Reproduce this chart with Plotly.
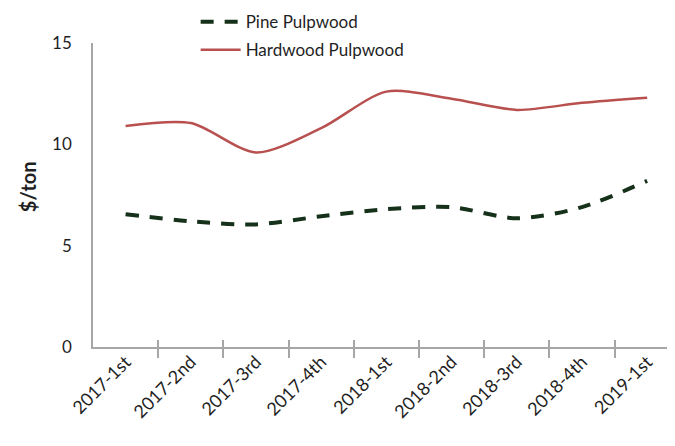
import plotly.graph_objects as go

categories = ["2017-1st", "2017-2nd", "2017-3rd", "2017-4th", "2018-1st",
              "2018-2nd", "2018-3rd", "2018-4th", "2019-1st"]
pine = [6.55, 6.2, 6.05, 6.45, 6.8, 6.9, 6.35, 6.9, 8.2]
hardwood = [10.9, 11.05, 9.6, 10.8, 12.6, 12.25, 11.7, 12.05, 12.3]
y_ticks = [0, 5, 10, 15]

FONT = "Lato"
TXT = "#1f1f1f"
XR = [-0.5, 8.55]
TICKPOS = [i - 0.5 for i in range(1, 10)]

fig = go.Figure()
fig.add_trace(go.Scatter(
    x=categories, y=pine, name="Pine Pulpwood", mode="lines", legendgroup="a",
    line=dict(color="#16311a", width=4, dash="13px,11px", shape="spline", smoothing=0.8),
))
fig.add_trace(go.Scatter(
    x=categories, y=hardwood, name="Hardwood Pulpwood", mode="lines", legendgroup="b",
    line=dict(color="#b8504f", width=2.5, shape="spline", smoothing=0.8),
))

fig.update_layout(
    width=675, height=446,
    margin=dict(l=85, r=0, t=35, b=107, autoexpand=False),
    paper_bgcolor="white", plot_bgcolor="white",
    font=dict(family=FONT, color=TXT),
    showlegend=True,
    legend=dict(x=0.278, y=1.128, xref="container", yref="paper",
                xanchor="left", yanchor="top",
                font=dict(size=17, color=TXT), traceorder="grouped", tracegroupgap=3,
                itemwidth=40, bgcolor="rgba(0,0,0,0)"),
    xaxis=dict(
        type="category", range=XR,
        showline=True, linecolor="#a6a6a6", linewidth=1.5,
        ticks="outside", ticklen=9, tickcolor="#a6a6a6", tickwidth=1.5,
        tickmode="array", tickvals=TICKPOS, ticktext=[""] * 9,
        showgrid=False, zeroline=False,
    ),
    xaxis2=dict(
        overlaying="x", type="category", range=XR,
        side="bottom", anchor="y",
        showline=False, ticks="inside", ticklen=7, tickcolor="#a6a6a6", tickwidth=1.5,
        tickmode="array", tickvals=TICKPOS, ticktext=[""] * 9,
        showgrid=False, zeroline=False, showticklabels=False,
    ),
    xaxis3=dict(
        overlaying="x", type="category", range=XR, anchor="y", side="bottom",
        showline=False, ticks="", showgrid=False, zeroline=False,
        tickangle=-45, tickfont=dict(size=18, color=TXT),
    ),
    yaxis=dict(
        range=[0, 15], tickvals=y_ticks,
        showline=True, linecolor="#a6a6a6", linewidth=1.5,
        ticks="", showgrid=False, zeroline=False,
        tickfont=dict(size=17, color=TXT), ticklabelstandoff=16,
    ),
    annotations=[dict(
        text="<b>$/ton</b>", xref="paper", yref="paper", x=-0.110, y=0.526,
        xanchor="center", yanchor="middle", textangle=-90, showarrow=False,
        font=dict(size=20, color=TXT, family=FONT),
    )],
)

fig.add_trace(go.Scatter(x=categories, y=[None] * 9, xaxis="x3", showlegend=False,
                         hoverinfo="skip"))
fig.add_trace(go.Scatter(x=categories, y=[None] * 9, xaxis="x2", showlegend=False,
                         hoverinfo="skip"))

fig.write_html("out.html")
